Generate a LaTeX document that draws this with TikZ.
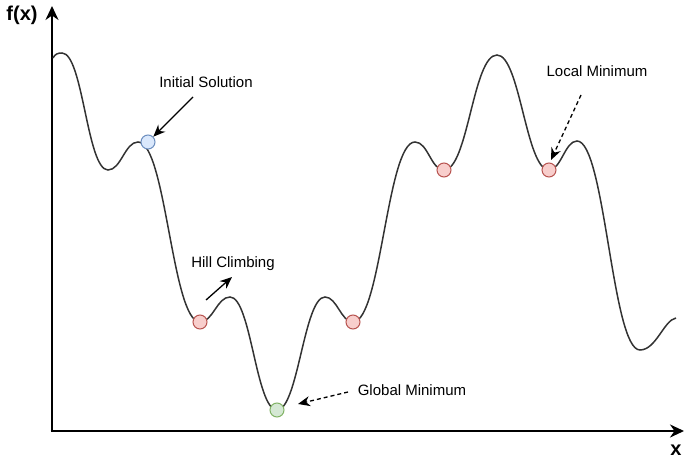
\documentclass[tikz,border=0pt]{standalone}
\usepackage{fontspec}
\setmainfont{Liberation Sans}
\usetikzlibrary{arrows.meta}
\definecolor{curvec}{HTML}{333333}
\definecolor{redf}{HTML}{F8CECC}\definecolor{redd}{HTML}{B85450}
\definecolor{bluef}{HTML}{DAE8FC}\definecolor{blued}{HTML}{6C8EBF}
\definecolor{greenf}{HTML}{D5E8D4}\definecolor{greend}{HTML}{82B366}
\tikzset{
  axis/.style={line width=2.6pt,-{Stealth[length=14pt,width=13pt]}},
  curve/.style={line width=1.5pt,draw=curvec},
  pt/.style={circle,minimum size=14pt,inner sep=0pt,line width=1pt},
  redpt/.style={pt,fill=redf,draw=redd},
  bluept/.style={pt,fill=bluef,draw=blued},
  greenpt/.style={pt,fill=greenf,draw=greend},
  lbl/.style={font=\fontsize{15}{17}\selectfont,inner sep=1pt},
  ptr/.style={line width=1.3pt,-{Stealth[length=12pt,width=10pt]}},
  dptr/.style={ptr,dash pattern=on 4pt off 3pt}
}
\begin{document}
\begin{tikzpicture}[x=1pt,y=-1pt]
\useasboundingbox (0,0) rectangle (685,465);
% axes
\coordinate (O) at (52,431);
\coordinate (ytop) at (52,6);
\coordinate (xend) at (684,431);
\draw[axis] (O) -- (ytop);
\draw[axis] ([xshift=-1.3pt]O) -- (xend);
\node[font=\fontsize{20}{22}\selectfont\bfseries] (fx) at (22,15) {f(x)};
\node[font=\fontsize{20}{22}\selectfont\bfseries] (xl) at (676,450) {x};
% curve
\draw[curve] (53,58) .. controls (55,54) and (58,53) .. (62,53)
 .. controls (83,53) and (87,170) .. (108,170)
 .. controls (121,170) and (125,142) .. (138,142)
 .. controls (166,142) and (172,322) .. (200,322)
 .. controls (213,322) and (217,297) .. (230,297)
 .. controls (251,297) and (256,410) .. (277,410)
 .. controls (298,410) and (304,297) .. (325,297)
 .. controls (337,297) and (341,322) .. (353,322)
 .. controls (381,322) and (387,142) .. (415,142)
 .. controls (428,142) and (431,170) .. (444,170)
 .. controls (468,170) and (473,55) .. (497,55)
 .. controls (520,55) and (526,170) .. (549,170)
 .. controls (561,170) and (565,141) .. (577,141)
 .. controls (605,141) and (612,350) .. (640,350)
 .. controls (656,350) and (664,320) .. (676,318);
% points
\node[bluept] (init) at (148,142) {};
\node[redpt] (m1) at (200,322) {};
\node[greenpt] (gm) at (277,410) {};
\node[redpt] (m2) at (353,322) {};
\node[redpt] (m3) at (444,170) {};
\node[redpt] (m4) at (549,170) {};
% labels
\node[lbl] (tinit) at (206,82) {Initial Solution};
\node[lbl] (thill) at (233,264) {Hill Climbing};
\node[lbl] (tglob) at (412,390) {Global Minimum};
\node[lbl] (tloc) at (597,71) {Local Minimum};
\coordinate (a1) at (193,97);
\coordinate (a2) at (206,300);
\coordinate (a2e) at (232,277);
\coordinate (a3) at (348,392);
\coordinate (a3e) at (298,404);
\coordinate (a4) at (581,95);
\coordinate (a4e) at (551,160);
\draw[ptr] (a1) -- (init);
\draw[ptr] (a2) -- (a2e);
\draw[dptr] (a3) -- (a3e);
\draw[dptr] (a4) -- (a4e);
\end{tikzpicture}
\end{document}
